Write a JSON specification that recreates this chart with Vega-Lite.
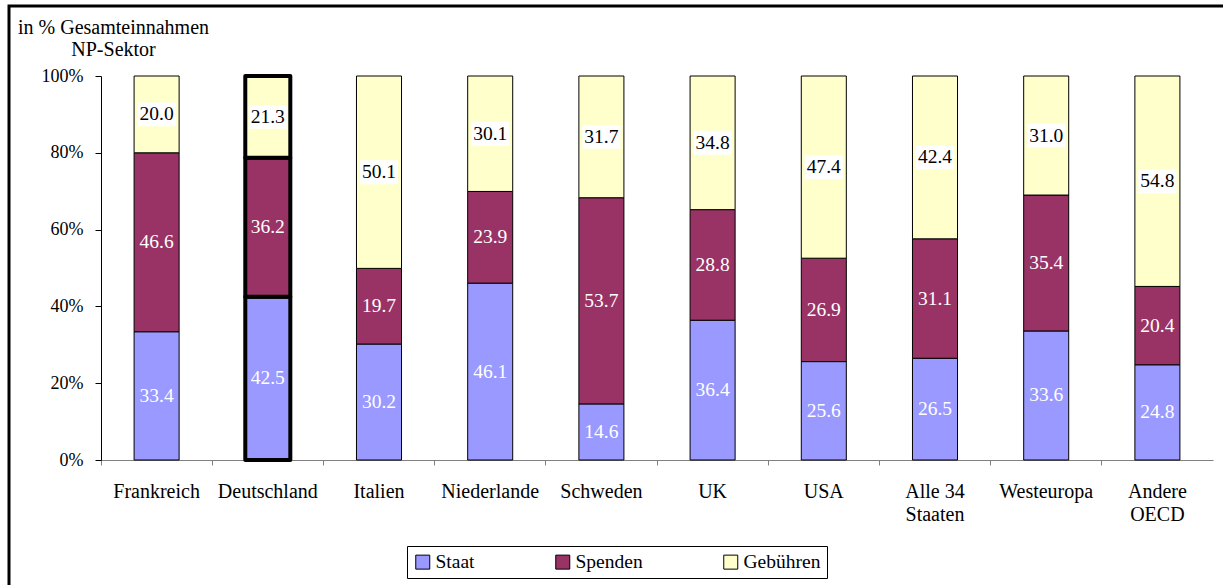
{
  "$schema": "https://vega.github.io/schema/vega-lite/v6.json",
  "width": 1218,
  "height": 583,
  "autosize": {"type": "none"},
  "padding": {"left": 9, "top": 6, "right": -4, "bottom": -4},
  "background": "white",
  "config": {
    "font": "Liberation Serif",
    "view": {"stroke": "black", "strokeWidth": 3},
    "axis": {"labelFont": "Liberation Serif", "titleFont": "Liberation Serif", "labelColor": "black", "titleColor": "black", "grid": false},
    "legend": {"labelFont": "Liberation Serif"},
    "text": {"font": "Liberation Serif"}
  },
  "data": {
    "values": [
      {"land": "Frankreich", "k": "Staat", "o": 1, "v": 33.4},
      {"land": "Frankreich", "k": "Spenden", "o": 2, "v": 46.6},
      {"land": "Frankreich", "k": "Gebühren", "o": 3, "v": 20.0},
      {"land": "Deutschland", "k": "Staat", "o": 1, "v": 42.5},
      {"land": "Deutschland", "k": "Spenden", "o": 2, "v": 36.2},
      {"land": "Deutschland", "k": "Gebühren", "o": 3, "v": 21.3},
      {"land": "Italien", "k": "Staat", "o": 1, "v": 30.2},
      {"land": "Italien", "k": "Spenden", "o": 2, "v": 19.7},
      {"land": "Italien", "k": "Gebühren", "o": 3, "v": 50.1},
      {"land": "Niederlande", "k": "Staat", "o": 1, "v": 46.1},
      {"land": "Niederlande", "k": "Spenden", "o": 2, "v": 23.9},
      {"land": "Niederlande", "k": "Gebühren", "o": 3, "v": 30.1},
      {"land": "Schweden", "k": "Staat", "o": 1, "v": 14.6},
      {"land": "Schweden", "k": "Spenden", "o": 2, "v": 53.7},
      {"land": "Schweden", "k": "Gebühren", "o": 3, "v": 31.7},
      {"land": "UK", "k": "Staat", "o": 1, "v": 36.4},
      {"land": "UK", "k": "Spenden", "o": 2, "v": 28.8},
      {"land": "UK", "k": "Gebühren", "o": 3, "v": 34.8},
      {"land": "USA", "k": "Staat", "o": 1, "v": 25.6},
      {"land": "USA", "k": "Spenden", "o": 2, "v": 26.9},
      {"land": "USA", "k": "Gebühren", "o": 3, "v": 47.4},
      {"land": "Alle 34 Staaten", "k": "Staat", "o": 1, "v": 26.5},
      {"land": "Alle 34 Staaten", "k": "Spenden", "o": 2, "v": 31.1},
      {"land": "Alle 34 Staaten", "k": "Gebühren", "o": 3, "v": 42.4},
      {"land": "Westeuropa", "k": "Staat", "o": 1, "v": 33.6},
      {"land": "Westeuropa", "k": "Spenden", "o": 2, "v": 35.4},
      {"land": "Westeuropa", "k": "Gebühren", "o": 3, "v": 31.0},
      {"land": "Andere OECD", "k": "Staat", "o": 1, "v": 24.8},
      {"land": "Andere OECD", "k": "Spenden", "o": 2, "v": 20.4},
      {"land": "Andere OECD", "k": "Gebühren", "o": 3, "v": 54.8}
    ]
  },
  "encoding": {
    "x": {
      "field": "land",
      "type": "nominal",
      "sort": ["Frankreich", "Deutschland", "Italien", "Niederlande", "Schweden", "UK", "USA", "Alle 34 Staaten", "Westeuropa", "Andere OECD"],
      "scale": {"range": [92, 1204], "paddingInner": 0, "paddingOuter": 0},
      "axis": {
        "title": null,
        "orient": "bottom",
        "offset": -129,
        "bandPosition": 0,
        "tickSize": 5,
        "domainColor": "#808080",
        "tickColor": "#808080",
        "labelAngle": 0,
        "labelFont": "Liberation Serif",
        "labelFontSize": 20,
        "labelPadding": 16,
        "labelBaseline": "top",
        "labelLineHeight": 23,
        "labelOverlap": false,
        "labelBound": false,
        "labelLimit": 0,
        "labelExpr": "datum.label == 'Alle 34 Staaten' ? ['Alle 34', 'Staaten'] : datum.label == 'Andere OECD' ? ['Andere', 'OECD'] : datum.label"
      }
    }
  },
  "layer": [
    {
      "mark": {"type": "bar", "width": {"band": 0.405}, "stroke": "black", "strokeJoin": "round"},
      "encoding": {
        "y": {
          "field": "v",
          "type": "quantitative",
          "stack": "normalize",
          "scale": {"domain": [0, 1], "range": [454, 70]},
          "axis": {
            "title": ["in % Gesamteinnahmen", "NP-Sektor"],
            "titleFont": "Liberation Serif",
            "titleAngle": 0,
            "titleAlign": "center",
            "titleBaseline": "alphabetic",
            "titleX": 12,
            "titleY": 27,
            "titleFontSize": 20,
            "titleFontWeight": "normal",
            "titleLineHeight": 22,
            "offset": -92,
            "values": [0, 0.2, 0.4, 0.6, 0.8, 1],
            "format": ".0%",
            "tickSize": 6,
            "labelPadding": 12,
            "labelFont": "Liberation Serif",
            "labelFontSize": 18,
            "domainColor": "black",
            "tickColor": "black"
          }
        },
        "color": {
          "field": "k",
          "type": "nominal",
          "scale": {"domain": ["Staat", "Spenden", "Gebühren"], "range": ["#9999FF", "#993366", "#FFFFCC"]},
          "legend": {
            "orient": "none",
            "legendX": 398,
            "legendY": 540,
            "direction": "horizontal",
            "columns": 3,
            "title": null,
            "strokeColor": "black",
            "fillColor": "white",
            "padding": 6,
            "columnPadding": 78,
            "symbolType": "square",
            "symbolSize": 196,
            "symbolStrokeColor": "black",
            "symbolStrokeWidth": 1,
            "symbolOpacity": 1,
            "labelFont": "Liberation Serif",
            "labelFontSize": 19.5,
            "labelColor": "black",
            "labelOffset": 3
          }
        },
        "order": {"field": "o"},
        "strokeWidth": {"condition": {"test": "datum.land === 'Deutschland'", "value": 4}, "value": 1}
      }
    },
    {
      "mark": {"type": "point", "shape": "M-1,-0.63L1,-0.63L1,0.63L-1,0.63Z", "filled": true, "size": 1444, "fill": "white", "strokeWidth": 0},
      "encoding": {
        "y": {"field": "v", "type": "quantitative", "stack": "normalize", "bandPosition": 0.5},
        "detail": {"field": "k"},
        "order": {"field": "o"},
        "opacity": {"condition": {"test": "datum.k === 'Gebühren'", "value": 1}, "value": 0}
      }
    },
    {
      "mark": {"type": "text", "font": "Liberation Serif", "fontSize": 19.5, "baseline": "middle", "align": "center"},
      "encoding": {
        "y": {"field": "v", "type": "quantitative", "stack": "normalize", "bandPosition": 0.5},
        "detail": {"field": "k"},
        "order": {"field": "o"},
        "text": {"field": "v", "type": "quantitative", "format": ".1f"},
        "color": {"condition": {"test": "datum.k === 'Gebühren'", "value": "black"}, "value": "white"}
      }
    }
  ]
}
